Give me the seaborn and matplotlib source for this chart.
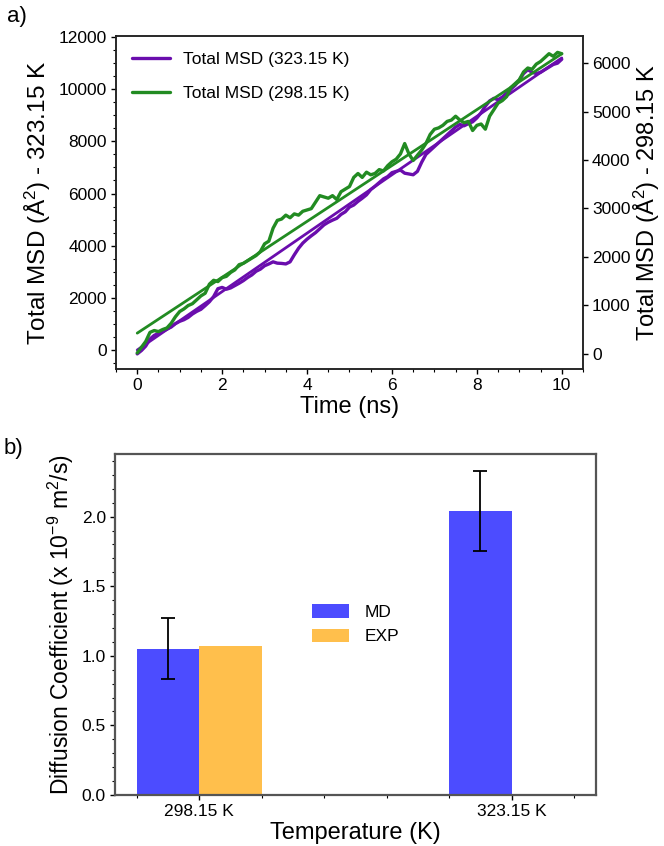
import numpy as np
import pandas as pd
import matplotlib
matplotlib.use("Agg")
import matplotlib.pyplot as plt
from matplotlib.ticker import AutoMinorLocator, MultipleLocator
import seaborn as sns

# data

# total MSD at 323.15 K (left axis, A^2), sampled every 0.1 ns
msd_323 = [-150, -20, 150, 420, 560, 640, 720, 800, 880, 1010,
           1100, 1160, 1250, 1380, 1480, 1560, 1700, 1850, 2050, 2350,
           2400, 2330, 2380, 2470, 2560, 2660, 2780, 2880, 3020, 3100,
           3230, 3300, 3380, 3330, 3320, 3300, 3380, 3650, 3900, 4100,
           4250, 4380, 4500, 4650, 4800, 4900, 4980, 5050, 5200, 5300,
           5480, 5560, 5700, 5820, 5950, 6150, 6280, 6420, 6560, 6650,
           6800, 6850, 6900, 6780, 6750, 6720, 6850, 7200, 7500, 7650,
           7800, 7950, 8100, 8250, 8400, 8550, 8650, 8600, 8680, 8750,
           8900, 9100, 9350, 9550, 9650, 9600, 9700, 9850, 10000, 10150,
           10350, 10600, 10750, 10650, 10600, 10650, 10750, 10850, 10950, 11000,
           11150]

# total MSD at 298.15 K (right axis, A^2), sampled every 0.1 ns
msd_298 = [22, 140, 258, 446, 484, 462, 505, 537, 634, 768,
           876, 929, 999, 1037, 1117, 1198, 1252, 1440, 1520, 1493,
           1574, 1601, 1681, 1735, 1842, 1869, 1923, 1977, 2030, 2111,
           2272, 2326, 2594, 2755, 2782, 2863, 2809, 2889, 2863, 2943,
           2970, 2997, 3131, 3265, 3238, 3212, 3265, 3185, 3346, 3400,
           3453, 3641, 3722, 3641, 3749, 3695, 3722, 3802, 3775, 3883,
           3963, 4017, 4125, 4339, 4125, 3990, 4098, 4205, 4339, 4527,
           4635, 4662, 4715, 4796, 4823, 4903, 4823, 4769, 4796, 4608,
           4715, 4742, 4635, 4903, 5037, 5172, 5225, 5306, 5494, 5574,
           5655, 5816, 5897, 5870, 5977, 6031, 6111, 6192, 6138, 6219,
           6192]

time_ns = np.linspace(0, 10, len(msd_323))

# linear fits (end points)
fit_time = [0, 10]
fit_323 = [0, 11200]
fit_298 = [430, 6190]

# diffusion coefficients (x 1e-9 m2/s)
temps = ["298.15 K", "323.15 K"]
d_md = [1.05, 2.04]
d_md_err = [0.22, 0.29]
d_exp = [1.07, np.nan]

purple = "#6a0dad"
green = "#228b22"

sns.set_style("ticks")
plt.rcParams['font.family'] = ['Liberation Sans', 'DejaVu Sans']
plt.rcParams['mathtext.fontset'] = 'custom'
plt.rcParams['mathtext.rm'] = 'Liberation Sans'
plt.rcParams['mathtext.it'] = 'Liberation Sans:italic'
plt.rcParams['mathtext.bf'] = 'Liberation Sans:bold'
plt.rcParams['text.color'] = 'black'
plt.rcParams['axes.labelcolor'] = 'black'
plt.rcParams['xtick.color'] = 'black'
plt.rcParams['ytick.color'] = 'black'

fig = plt.figure(figsize=(6.64, 8.46), dpi=100)

#plot a - MSD vs time
ax = fig.add_axes([0.1747, 0.5638, 0.7033, 0.3936])
sns.lineplot(x=time_ns, y=msd_323, ax=ax, color=purple, lw=2.4, label="Total MSD (323.15 K)")
sns.lineplot(x=fit_time, y=fit_323, ax=ax, color=purple, lw=2)
ax.set_xlim(-0.5, 10.5)
ax.set_ylim(-730, 12040)
ax.set_xticks([0, 2, 4, 6, 8, 10])
ax.set_yticks(range(0, 12001, 2000))
ax.xaxis.set_minor_locator(AutoMinorLocator())
ax.yaxis.set_minor_locator(AutoMinorLocator())
ax.set_xlabel("Time (ns)", fontsize=17, labelpad=2)
ax.set_ylabel("Total MSD (Å$^2$) - 323.15 K", fontsize=17.5, labelpad=4)

ax2 = ax.twinx()
sns.lineplot(x=time_ns, y=msd_298, ax=ax2, color=green, lw=2.4, label="Total MSD (298.15 K)")
sns.lineplot(x=fit_time, y=fit_298, ax=ax2, color=green, lw=2)
ax2.set_ylim(-310, 6556)
ax2.set_yticks(range(0, 6001, 1000))
ax2.set_ylabel("Total MSD (Å$^2$) - 298.15 K", fontsize=17, labelpad=1)

h1, l1 = ax.get_legend_handles_labels()
h2, l2 = ax2.get_legend_handles_labels()
ax.get_legend().remove()
ax2.get_legend().remove()
ax2.legend(h1 + h2, l1 + l2, loc="upper left", frameon=False, fontsize=12.5,
           handlelength=2.2, handletextpad=0.75, labelspacing=1.1)

for a in (ax, ax2):
    a.tick_params(which="major", direction="out", length=3.5, width=1, labelsize=12.5, pad=3)
    a.tick_params(which="minor", direction="out", length=2, width=0.8)
    for s in a.spines.values():
        s.set_linewidth(1.1)
        s.set_color("#222222")
        s.set_visible(True)

fig.text(0.01, 0.98, "a)", fontsize=16, va="center")

#plot b - diffusion coefficients
df = pd.DataFrame({
    "Temperature": temps * 2,
    "D": d_md + d_exp,
    "Method": ["MD"] * len(temps) + ["EXP"] * len(temps),
})

bx = fig.add_axes([0.1732, 0.0603, 0.7244, 0.4031])
sns.barplot(data=df, x="Temperature", y="D", hue="Method", hue_order=["MD", "EXP"],
            palette={"MD": "blue", "EXP": "orange"}, saturation=1, alpha=0.7,
            width=0.4, errorbar=None, linewidth=0, ax=bx)

md_x = [p.get_x() + p.get_width() / 2 for p in bx.containers[0]]
bx.errorbar(md_x, d_md, yerr=d_md_err, fmt="none", ecolor="black",
            elinewidth=1.3, capsize=5, capthick=1.3)

bx.set_xlim(-0.27, 1.27)
bx.set_ylim(0, 2.45)
bx.set_xticks([0, 1])
bx.set_xticklabels(temps)
bx.set_yticks([0, 0.5, 1.0, 1.5, 2.0])
bx.xaxis.set_minor_locator(MultipleLocator(0.2))
bx.yaxis.set_minor_locator(AutoMinorLocator())
bx.set_xlabel("Temperature (K)", fontsize=17, labelpad=2)
bx.set_ylabel("Diffusion Coefficient (x 10$^{-9}$ m$^2$/s)", fontsize=16.5, labelpad=4)
bx.legend(loc="center", frameon=False, fontsize=12.5, title=None,
          handlelength=2.1, handleheight=0.8, handletextpad=0.9)
bx.tick_params(which="major", direction="out", length=3.5, width=1, labelsize=12.5, pad=3)
bx.tick_params(which="minor", direction="out", length=2, width=0.8)
for s in bx.spines.values():
    s.set_linewidth(1.6)
    s.set_color("#555555")
    s.set_visible(True)

fig.text(0.005, 0.47, "b)", fontsize=16, va="center")

plt.savefig("out.png", dpi=100)
